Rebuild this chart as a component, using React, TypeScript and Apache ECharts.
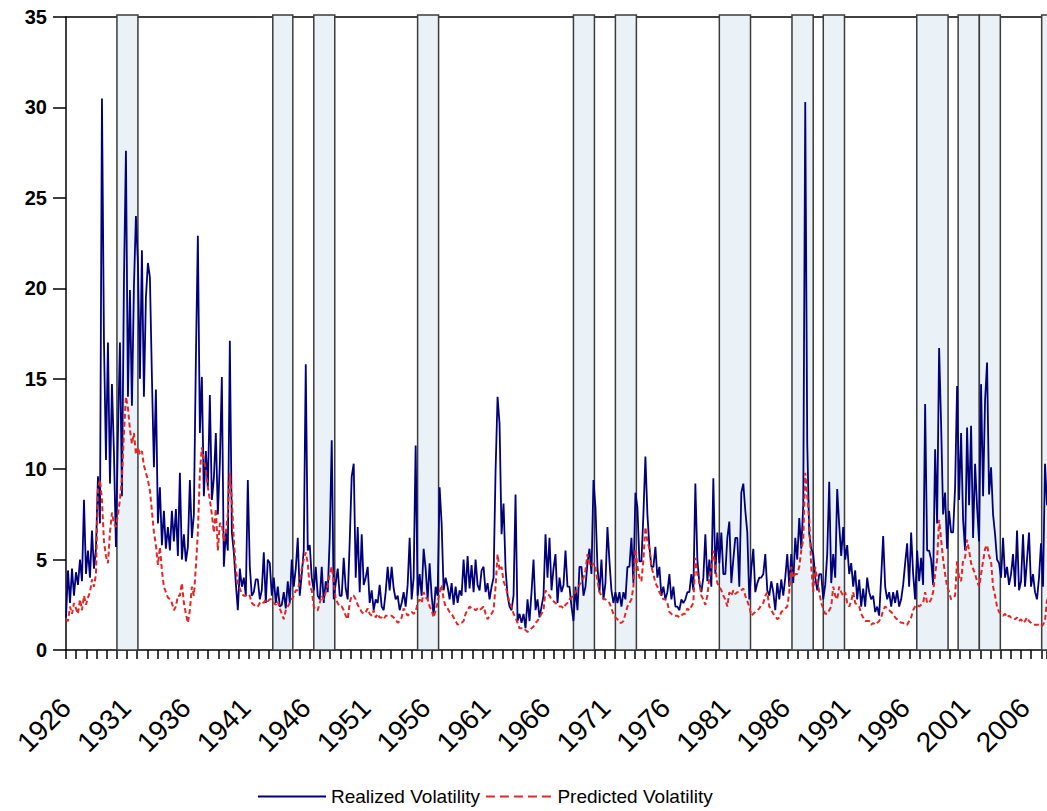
import { useEffect, useRef } from 'react';
import * as echarts from 'echarts';

// Readings every two months, starting January 1926 (six per row = one year).
const START_YEAR = 1926;
const MONTHS_PER_POINT = 2;

const realizedVolatility: number[] = [
  1.8, 4.4, 2.6, 4.5, 3.0, 4.3, // 1926
  3.6, 5.0, 3.8, 8.3, 4.2, 5.5,
  4.0, 6.6, 4.5, 5.6, 9.6, 7.0,
  30.5, 17.1, 10.5, 17.0, 9.2, 14.7,
  10.9, 5.7, 12.0, 17.0, 8.5, 20.3, // 1930
  27.6, 14.0, 19.9, 13.5, 20.1, 24.0,
  21.4, 15.0, 22.1, 14.0, 19.5, 21.4,
  20.6, 15.1, 10.1, 14.4, 7.0, 9.0,
  5.8, 7.7, 5.6, 6.8, 5.5, 7.7,
  6.0, 7.8, 5.2, 9.8, 5.0, 6.4, // 1935
  4.9, 5.7, 9.4, 6.2, 7.5, 16.0,
  22.9, 12.0, 15.1, 8.5, 11.0, 9.0,
  14.1, 8.3, 9.5, 12.0, 7.5, 10.3,
  15.1, 4.6, 6.5, 5.5, 17.1, 6.5,
  5.4, 3.7, 2.2, 4.5, 3.5, 4.0, // 1940
  3.0, 9.4, 4.6, 3.0, 3.2, 3.9,
  3.9, 2.8, 3.3, 5.4, 2.6, 5.0,
  4.8, 3.0, 4.0, 2.6, 3.5, 2.4,
  2.5, 3.2, 2.3, 3.8, 2.6, 5.0,
  3.5, 4.5, 6.2, 3.0, 4.2, 5.5, // 1945
  15.8, 5.5, 5.8, 4.0, 3.3, 4.6,
  3.0, 2.8, 4.6, 2.6, 3.8, 3.2,
  6.2, 11.6, 2.8, 3.7, 4.5, 3.0,
  3.0, 5.1, 3.4, 2.8, 6.0, 9.6,
  10.3, 4.0, 6.8, 3.2, 6.4, 3.6, // 1950
  4.0, 4.6, 2.6, 3.3, 2.2, 2.8,
  2.6, 3.6, 2.4, 2.2, 3.2, 4.6,
  3.3, 4.6, 3.4, 2.8, 3.0, 2.2,
  2.6, 3.2, 2.4, 3.6, 6.2, 2.8,
  4.0, 11.3, 3.0, 4.2, 3.0, 5.6, // 1955
  4.5, 2.8, 4.8, 3.0, 1.9, 3.5,
  3.0, 9.0, 7.0, 3.3, 4.0, 3.5,
  2.8, 3.7, 2.5, 3.5, 2.6, 3.3,
  3.0, 5.0, 3.2, 5.2, 3.4, 4.7,
  3.2, 5.0, 3.6, 3.3, 4.4, 4.6, // 1960
  3.2, 3.7, 2.8, 3.5, 4.0, 9.9,
  14.0, 12.5, 6.4, 8.1, 4.5, 3.0,
  2.4, 2.2, 3.0, 8.6, 1.6, 2.0,
  1.5, 2.0, 1.2, 2.8, 1.6, 3.2,
  5.0, 2.2, 2.8, 1.8, 2.4, 3.0, // 1965
  6.4, 4.0, 6.2, 3.3, 4.5, 5.3,
  2.6, 4.0, 3.2, 3.6, 5.5, 3.5,
  3.5, 2.4, 1.6, 3.5, 2.2, 4.6,
  4.6, 3.0, 3.5, 4.8, 5.6, 4.2,
  9.4, 7.9, 4.6, 3.2, 5.0, 2.8, // 1970
  3.7, 6.8, 4.9, 3.3, 2.6, 3.2,
  2.6, 3.2, 2.4, 3.2, 2.8, 4.6,
  4.6, 6.2, 3.7, 8.7, 7.9, 4.9,
  4.9, 7.5, 10.7, 7.5, 5.7, 4.6,
  4.6, 5.7, 4.0, 4.6, 3.0, 3.5, // 1975
  2.8, 3.2, 4.2, 2.8, 3.5, 2.4,
  2.4, 2.2, 2.8, 2.6, 2.8, 3.2,
  3.2, 4.2, 3.3, 9.2, 5.0, 3.7,
  3.2, 4.0, 6.4, 3.8, 5.0, 3.5,
  9.5, 4.2, 6.5, 4.8, 6.5, 4.2, // 1980
  4.2, 6.2, 7.1, 3.7, 5.0, 6.2,
  6.2, 3.5, 8.7, 9.2, 7.7, 6.5,
  2.8, 4.5, 5.6, 3.2, 3.7, 4.0,
  4.0, 4.2, 5.3, 3.3, 3.0, 3.8,
  3.2, 2.2, 3.7, 2.8, 3.9, 3.0, // 1985
  4.0, 5.3, 3.5, 5.3, 3.7, 6.2,
  5.0, 7.3, 5.6, 8.0, 30.3, 11.4,
  6.4, 5.6, 5.3, 4.0, 3.3, 4.2,
  4.2, 2.8, 3.6, 5.3, 9.3, 3.7,
  5.3, 4.0, 8.9, 6.9, 5.2, 6.8, // 1990
  5.0, 5.8, 4.2, 4.8, 3.5, 4.4,
  2.8, 3.9, 2.4, 3.4, 2.4, 4.0,
  3.2, 2.8, 3.0, 2.1, 2.4, 1.9,
  4.0, 6.3, 3.5, 2.8, 3.2, 2.4,
  3.2, 2.6, 3.3, 2.4, 2.8, 3.6, // 1995
  4.8, 5.9, 3.5, 6.5, 4.2, 2.8,
  5.5, 3.8, 5.1, 3.6, 13.6, 5.5,
  5.5, 5.0, 3.6, 11.1, 7.0, 16.7,
  12.5, 7.5, 8.7, 5.6, 7.7, 6.5,
  6.5, 9.0, 14.6, 8.3, 12.0, 7.2, // 2000
  5.5, 12.3, 8.0, 12.4, 6.2, 10.3,
  7.9, 6.0, 14.7, 8.5, 13.8, 15.9,
  8.6, 10.1, 7.5, 6.4, 5.0, 4.8,
  4.0, 6.2, 4.0, 4.6, 3.6, 4.2,
  5.3, 3.5, 6.6, 3.3, 3.8, 6.4, // 2005
  3.5, 5.0, 6.5, 3.5, 4.2, 3.2,
  2.8, 4.0, 5.9, 3.5, 10.3, 8.0,
];

const predictedVolatility: number[] = [
  1.7, 1.6, 2.4, 2.0, 2.6, 2.3, // 1926
  2.0, 2.8, 2.2, 3.0, 2.5, 2.9,
  3.2, 3.9, 3.5, 4.2, 8.9, 9.4,
  8.3, 6.0, 5.2, 4.8, 6.5, 7.6,
  7.0, 6.8, 7.5, 8.3, 9.5, 12.0, // 1930
  14.0, 13.4, 12.2, 11.4, 12.0, 10.8,
  11.2, 10.8, 11.0, 10.2, 9.8, 9.4,
  8.8, 7.7, 6.5, 5.8, 4.7, 5.7,
  4.4, 3.5, 3.2, 2.9, 2.8, 2.6,
  2.2, 2.4, 3.0, 3.0, 3.7, 2.6, // 1935
  2.0, 1.5, 2.2, 3.5, 3.0, 4.6,
  6.5, 9.8, 11.2, 10.5, 10.0, 9.0,
  8.3, 7.5, 6.5, 7.8, 5.5, 7.0,
  7.0, 6.0, 6.5, 7.5, 9.8, 8.3,
  6.1, 4.5, 3.7, 3.4, 3.1, 3.0, // 1940
  3.0, 3.1, 3.0, 2.6, 2.5, 2.4,
  2.4, 2.6, 2.7, 2.6, 2.8, 2.7,
  2.8, 2.8, 2.6, 2.5, 2.7, 2.3,
  2.0, 1.7, 2.2, 2.4, 2.6, 2.8,
  3.0, 3.3, 3.3, 3.8, 4.5, 5.0, // 1945
  5.4, 4.8, 3.5, 3.3, 2.4, 2.2,
  2.2, 2.6, 3.0, 2.8, 3.2, 3.6,
  4.2, 4.6, 3.8, 2.8, 2.6, 2.4,
  2.4, 2.2, 1.9, 1.7, 2.6, 3.0,
  3.0, 2.8, 2.5, 2.3, 2.1, 2.0, // 1950
  2.1, 2.3, 2.0, 1.9, 2.2, 1.8,
  2.0, 1.8, 1.8, 1.7, 1.9, 1.9,
  1.9, 1.9, 1.8, 1.7, 1.5, 1.6,
  1.8, 2.3, 2.1, 1.9, 2.0, 2.1,
  2.0, 2.1, 2.6, 2.8, 2.6, 3.2, // 1955
  2.9, 2.8, 2.4, 2.2, 1.8, 2.2,
  2.6, 3.2, 3.6, 2.8, 2.4, 2.3,
  2.1, 2.0, 1.8, 1.6, 1.4, 1.5,
  1.5, 1.6, 2.0, 2.2, 2.4, 2.3,
  2.3, 2.2, 2.3, 2.2, 2.3, 2.4, // 1960
  2.0, 1.7, 1.9, 2.0, 2.2, 3.5,
  5.3, 4.4, 4.6, 3.8, 3.5, 3.1,
  2.6, 2.4, 2.0, 1.8, 1.5, 1.2,
  1.2, 1.1, 1.1, 1.0, 1.1, 1.2,
  1.3, 1.5, 1.6, 1.8, 2.0, 2.2, // 1965
  3.3, 3.1, 3.0, 2.8, 2.7, 2.6,
  2.5, 2.4, 2.4, 2.3, 2.5, 2.6,
  2.8, 2.9, 3.0, 3.2, 3.4, 3.6,
  3.8, 4.0, 4.4, 5.3, 4.8, 4.6,
  4.8, 4.6, 3.8, 3.2, 3.0, 2.8, // 1970
  2.8, 2.7, 2.6, 2.3, 2.0, 1.8,
  1.7, 1.5, 1.5, 1.6, 2.0, 2.4,
  2.6, 2.8, 3.5, 5.6, 4.6, 4.0,
  3.8, 5.0, 6.8, 6.0, 5.6, 4.6,
  4.2, 3.7, 3.5, 3.2, 3.0, 2.8, // 1975
  2.8, 2.6, 2.1, 2.0, 1.9, 1.9,
  1.9, 1.8, 1.9, 2.0, 2.0, 2.3,
  2.2, 2.4, 2.6, 5.1, 4.2, 3.8,
  3.0, 2.8, 2.5, 3.0, 4.0, 4.6,
  5.5, 4.6, 3.7, 3.5, 3.3, 3.0, // 1980
  2.8, 2.4, 3.2, 3.0, 3.3, 3.1,
  3.2, 3.2, 3.3, 3.4, 3.0, 2.7,
  2.4, 1.9, 2.0, 2.1, 2.2, 2.3,
  2.5, 2.6, 3.0, 3.2, 2.4, 2.2,
  2.0, 1.9, 1.7, 1.8, 2.1, 2.2, // 1985
  2.3, 2.4, 3.2, 4.6, 4.0, 4.2,
  4.2, 4.6, 5.5, 6.1, 9.8, 8.5,
  7.2, 4.6, 3.2, 4.6, 3.9, 3.2,
  2.6, 2.3, 2.0, 2.0, 2.2, 2.4,
  3.5, 3.0, 2.8, 3.5, 3.2, 3.0, // 1990
  3.2, 2.6, 2.4, 2.7, 3.2, 2.6,
  2.5, 2.4, 2.0, 1.8, 1.6, 1.6,
  1.6, 1.4, 1.5, 1.4, 1.5, 1.6,
  1.8, 2.2, 2.4, 2.3, 2.2, 2.1,
  2.0, 1.8, 1.7, 1.6, 1.5, 1.5, // 1995
  1.4, 1.4, 1.6, 1.8, 2.2, 2.4,
  2.5, 2.4, 2.5, 2.6, 3.2, 2.6,
  2.6, 2.8, 3.2, 4.2, 5.0, 7.2,
  6.1, 5.0, 4.2, 3.5, 3.2, 2.8,
  2.9, 3.0, 4.9, 4.0, 3.8, 5.0, // 2000
  5.1, 6.1, 5.5, 4.8, 4.5, 4.2,
  3.8, 3.5, 4.2, 4.9, 5.6, 5.8,
  5.2, 4.9, 3.5, 3.0, 2.4, 2.1,
  2.0, 1.9, 2.0, 1.8, 1.9, 1.8,
  1.8, 1.7, 1.8, 1.6, 1.7, 1.5, // 2005
  1.6, 1.8, 1.6, 1.5, 1.4, 1.4,
  1.4, 1.4, 1.3, 1.4, 1.6, 2.8,
];

// Shaded periods, in decimal years [start, end].
const shadedPeriods: [number, number][] = [
  [1930.25, 1932.0],
  [1943.25, 1944.92],
  [1946.67, 1948.42],
  [1955.33, 1957.08],
  [1968.33, 1970.08],
  [1971.83, 1973.58],
  [1980.5, 1983.1],
  [1986.56, 1988.33],
  [1989.17, 1990.94],
  [1996.97, 1999.58],
  [2000.42, 2002.19],
  [2002.19, 2003.94],
  [2007.39, 2009.0],
];

const yearLabels = [1926, 1931, 1936, 1941, 1946, 1951, 1956, 1961, 1966, 1971, 1976, 1981, 1986, 1991, 1996, 2001, 2006];

const Y_MIN = 0;
const Y_MAX = 35;
const Y_STEP = 5;

const X_MAX_MONTHS = 982;
const LABEL_STEP_MONTHS = 60;
const TICK_STEP_MONTHS = 10.17;

const NAVY = '#00007a';
const RED = '#e02828';
const FONT = '"Liberation Sans", Arial, Helvetica, sans-serif';

// Legend keys: a solid bar and a row of dashes.
const SOLID_KEY = 'path://M0,0H68V2H0Z';
const DASHED_KEY = 'path://M0,0H9V2H0Z M14,0H23V2H14Z M28,0H37V2H28Z M42,0H51V2H42Z M56,0H65V2H56Z';

const toMonths = (year: number) => (year - START_YEAR) * 12;

export default function App() {
  const ref = useRef<HTMLDivElement>(null);

  useEffect(() => {
    if (!ref.current) return;
    const chart = echarts.init(ref.current, undefined, { renderer: 'svg' });

    const realizedData = realizedVolatility.map((v, i) => [i * MONTHS_PER_POINT, v]);
    const predictedData = predictedVolatility.map((v, i) => [i * MONTHS_PER_POINT, v]);
    const bandData = shadedPeriods.map(([a, b]) => [toMonths(a), toMonths(b)]);

    chart.setOption({
      animation: false,
      backgroundColor: '#ffffff',
      grid: { left: 66, right: 0, top: 17, bottom: 161, containLabel: false },
      legend: {
        data: [
          { name: 'Realized Volatility', icon: SOLID_KEY },
          { name: 'Predicted Volatility', icon: DASHED_KEY },
        ],
        left: 258,
        top: 787,
        padding: 0,
        itemWidth: 68,
        itemHeight: 2,
        itemGap: 6,
        textStyle: { fontFamily: FONT, fontSize: 19, color: '#000' },
      },
      xAxis: [
        {
          type: 'value',
          min: 0,
          max: X_MAX_MONTHS,
          interval: LABEL_STEP_MONTHS,
          position: 'bottom',
          axisLine: { show: true, lineStyle: { color: '#000', width: 1.5 } },
          axisTick: { show: false },
          splitLine: { show: false },
          axisLabel: {
            rotate: 45,
            margin: 53,
            padding: [0, 0, 28, 0],
            showMaxLabel: false,
            color: '#000',
            fontFamily: FONT,
            fontSize: 28,
            formatter: (v: number) => {
              const year = START_YEAR + v / 12;
              return yearLabels.includes(year) ? String(year) : '';
            },
          },
        },
        {
          type: 'value',
          min: 0,
          max: X_MAX_MONTHS,
          interval: TICK_STEP_MONTHS,
          position: 'bottom',
          axisLine: { show: false },
          axisTick: { show: true, length: 9, lineStyle: { color: '#000', width: 1.5 } },
          axisLabel: { show: false },
          splitLine: { show: false },
        },
        {
          type: 'value',
          min: 0,
          max: X_MAX_MONTHS,
          position: 'top',
          axisLine: { show: true, lineStyle: { color: '#000', width: 1.5 } },
          axisTick: { show: false },
          axisLabel: { show: false },
          splitLine: { show: false },
        },
      ],
      yAxis: {
        type: 'value',
        min: Y_MIN,
        max: Y_MAX,
        interval: Y_STEP,
        axisLine: { show: true, lineStyle: { color: '#000', width: 1.5 } },
        axisTick: { show: true, length: 13, lineStyle: { color: '#000', width: 1.5 } },
        splitLine: { show: false },
        axisLabel: {
          margin: 19,
          color: '#000',
          fontFamily: FONT,
          fontSize: 20,
          fontWeight: 'bold',
        },
      },
      series: [
        {
          name: 'shaded',
          type: 'custom',
          xAxisIndex: 0,
          yAxisIndex: 0,
          z: 1,
          clip: false,
          silent: true,
          encode: { x: [0, 1] },
          data: bandData,
          renderItem: (_params: any, api: any) => {
            const topLeft = api.coord([api.value(0), Y_MAX]);
            const bottomRight = api.coord([api.value(1), Y_MIN]);
            return {
              type: 'rect',
              shape: {
                x: topLeft[0],
                y: topLeft[1] - 2,
                width: bottomRight[0] - topLeft[0],
                height: bottomRight[1] - topLeft[1] + 2,
              },
              style: { fill: '#eaf2f8', stroke: '#3c3c3c', lineWidth: 1.5 },
            };
          },
        },
        {
          name: 'Realized Volatility',
          type: 'line',
          xAxisIndex: 0,
          yAxisIndex: 0,
          z: 3,
          symbol: 'none',
          data: realizedData,
          lineStyle: { color: NAVY, width: 1.8 },
          itemStyle: { color: NAVY },
        },
        {
          name: 'Predicted Volatility',
          type: 'line',
          xAxisIndex: 0,
          yAxisIndex: 0,
          z: 4,
          symbol: 'none',
          data: predictedData,
          lineStyle: { color: RED, width: 2, type: [5, 3] },
          itemStyle: { color: RED },
        },
      ],
    });

    return () => chart.dispose();
  }, []);

  return (
    <div
      ref={ref}
      style={{ position: 'fixed', left: 0, top: 0, width: 1047, height: 811, background: '#fff' }}
    />
  );
}
